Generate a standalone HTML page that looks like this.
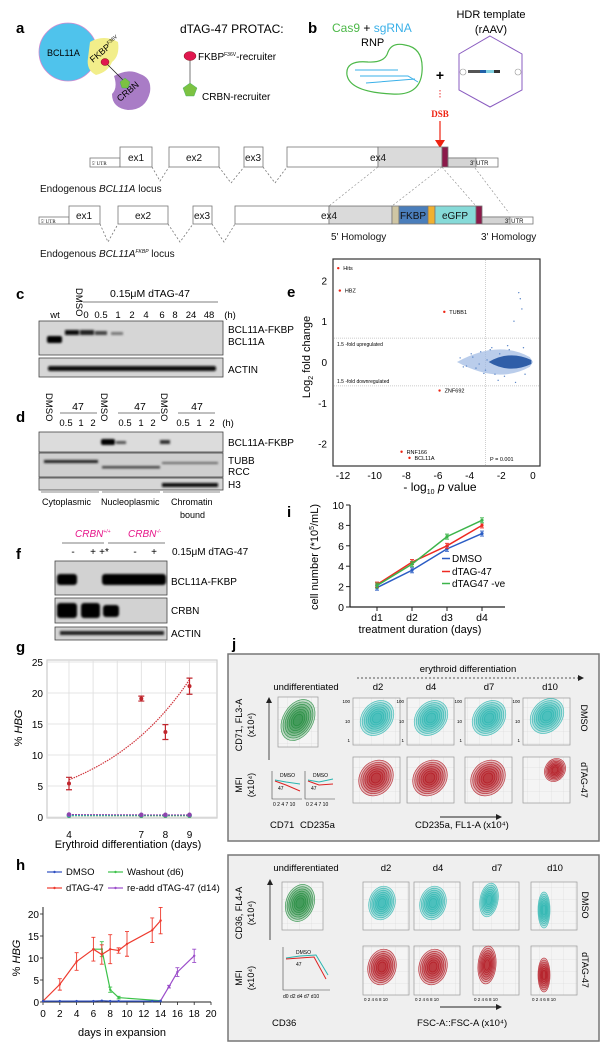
<!DOCTYPE html>
<html><head><meta charset="utf-8"><style>
html,body{margin:0;padding:0;background:#fff;}
svg{display:block;font-family:"Liberation Sans",sans-serif;}
</style></head><body>
<svg id="fig" width="611" height="1050" viewBox="0 0 611 1050" xmlns="http://www.w3.org/2000/svg">
<defs>
<pattern id="hatch" width="4" height="2" patternUnits="userSpaceOnUse"><rect width="4" height="2" fill="#ececec"/><line x1="0" y1="1" x2="4" y2="1" stroke="#b0b0b0" stroke-width="0.6"/></pattern>
<pattern id="vhatch" width="2" height="4" patternUnits="userSpaceOnUse"><rect width="2" height="4" fill="#e6e6e6"/><line x1="1" y1="0" x2="1" y2="4" stroke="#aaa" stroke-width="0.6"/></pattern>
<filter id="blur" x="-20%" y="-50%" width="140%" height="200%"><feGaussianBlur stdDeviation="1"/></filter>
<pattern id="fgrid" width="12" height="12" patternUnits="userSpaceOnUse"><rect width="12" height="12" fill="#f4f4f4"/><path d="M12 0V12M0 12H12" stroke="#d4d4d4" stroke-width="0.5"/></pattern>
</defs>

<!-- Panel a -->
<g>
<text x="16" y="33" font-size="15" font-weight="bold">a</text>
<circle cx="68" cy="52" r="29" fill="#4fc3ec" stroke="#d48ad0" stroke-width="0.8"/>
<path d="M90 42 Q104 34 118 42 Q120 56 112 62 Q108 72 96 75 Q86 70 88 58 Z" fill="#f2ee8a"/>
<path d="M114 76 Q128 68 140 74 Q152 78 150 92 Q146 110 128 110 Q112 108 112 94 Q118 88 114 76 Z" fill="#a97cc6"/>
<text x="47" y="56" font-size="9">BCL11A</text>
<text x="93" y="63" font-size="9" transform="rotate(-40 93 63)">FKBP<tspan font-size="5" dy="-4">F36V</tspan></text>
<text x="120" y="102" font-size="9" transform="rotate(-40 120 102)">CRBN</text>
<line x1="105" y1="62" x2="125" y2="82" stroke="#222" stroke-width="0.8"/>
<ellipse cx="105" cy="62" rx="4" ry="3.5" fill="#e0174f" stroke="#600" stroke-width="0.4"/>
<polygon points="125,78 130,82 128,88 122,88 120,82" fill="#7cc242" stroke="#3a6" stroke-width="0.4"/>
<text x="180" y="33" font-size="12">dTAG-47 PROTAC:</text>
<line x1="190" y1="58" x2="190" y2="86" stroke="#555" stroke-width="0.8"/>
<ellipse cx="190" cy="56" rx="6" ry="4.5" fill="#e0174f" stroke="#600" stroke-width="0.4"/>
<polygon points="190,83 197,88 194,96 186,96 183,88" fill="#7cc242" stroke="#3a6" stroke-width="0.4"/>
<text x="198" y="60" font-size="10">FKBP<tspan font-size="5" dy="-4">F36V</tspan><tspan dy="4">-recruiter</tspan></text>
<text x="202" y="100" font-size="10">CRBN-recruiter</text>
</g>

<!-- Panel b -->
<g>
<text x="308" y="33" font-size="15" font-weight="bold">b</text>
<text x="332" y="32" font-size="12"><tspan fill="#4cb848">Cas9</tspan> + <tspan fill="#3ab0e8">sgRNA</tspan></text>
<text x="361" y="46" font-size="11">RNP</text>
<path d="M388 52 Q392 42 405 45 Q424 48 422 72 Q420 96 392 94 Q350 92 347 75 Q345 60 368 62 Q385 63 388 52 Z" fill="none" stroke="#4cb848" stroke-width="1.2"/>
<path d="M355 70 L398 70 M360 76 L408 76 L418 82 M366 83 L415 79" fill="none" stroke="#3ab0e8" stroke-width="1"/>
<text x="440" y="80" font-size="14" font-weight="bold" text-anchor="middle">+</text>
<line x1="440" y1="90" x2="440" y2="98" stroke="#e33" stroke-width="1" stroke-dasharray="1.5 1.5"/>
<polygon points="490,36 522,54 522,90 490,107 459,90 459,54" fill="none" stroke="#8a5cc0" stroke-width="1"/>
<rect x="468" y="70" width="12" height="3" fill="#555"/><rect x="480" y="70" width="6" height="3" fill="#2060a8"/><rect x="486" y="70" width="8" height="3" fill="#80d0e0"/><rect x="494" y="70" width="6" height="3" fill="#333"/>
<circle cx="463" cy="72" r="3" fill="none" stroke="#999" stroke-width="0.6"/><circle cx="518" cy="72" r="3" fill="none" stroke="#999" stroke-width="0.6"/>
<text x="491" y="18" font-size="11" text-anchor="middle">HDR template</text>
<text x="491" y="33" font-size="11" text-anchor="middle">(rAAV)</text>
<text x="440" y="117" font-size="9" font-weight="bold" fill="#e21" text-anchor="middle" font-family="Liberation Serif,serif">DSB</text>
<line x1="440" y1="121" x2="440" y2="142" stroke="#e21" stroke-width="1.2"/>
<polygon points="435,140 445,140 440,148" fill="#e21"/>
</g>

<!-- Locus 1 -->
<g stroke="#777" stroke-width="0.8">
<rect x="90" y="158" width="30" height="9" fill="#fff"/>
<rect x="120" y="147" width="32" height="20" fill="#fff"/>
<rect x="169" y="147" width="50" height="20" fill="#fff"/>
<rect x="244" y="147" width="19" height="20" fill="#fff"/>
<rect x="287" y="147" width="91" height="20" fill="#fff"/>
<rect x="378" y="147" width="64" height="20" fill="url(#hatch)"/>
<rect x="442" y="147" width="6" height="20" fill="#8b1a4a"/>
<rect x="448" y="158" width="50" height="9" fill="#fff"/>
<rect x="448" y="158" width="28" height="9" fill="url(#vhatch)"/>
<path d="M152 167 L160 181 L169 167 M219 167 L231 183 L244 167 M263 167 L275 183 L287 167" fill="none" stroke-dasharray="2 2"/>
<path d="M378 167 L329 206 M442 167 L392 206 M442 167 L476 206 M475 168 L509 213" fill="none" stroke="#888" stroke-dasharray="2 2" stroke-width="0.6"/>
</g>
<g font-size="10" fill="#111">
<text x="92" y="165" font-size="5" font-family="Liberation Serif,serif">5' UTR</text>
<text x="136" y="161" text-anchor="middle">ex1</text><text x="194" y="161" text-anchor="middle">ex2</text><text x="253" y="161" text-anchor="middle">ex3</text><text x="378" y="161" text-anchor="middle">ex4</text>
<text x="470" y="165" font-size="6">3' UTR</text>
<text x="40" y="192">Endogenous <tspan font-style="italic">BCL11A</tspan> locus</text>
</g>
<!-- Locus 2 -->
<g stroke="#777" stroke-width="0.8">
<rect x="39" y="217" width="30" height="7" fill="#fff"/>
<rect x="69" y="206" width="31" height="18" fill="#fff"/>
<rect x="118" y="206" width="50" height="18" fill="#fff"/>
<rect x="193" y="206" width="19" height="18" fill="#fff"/>
<rect x="235" y="206" width="94" height="18" fill="#fff"/>
<rect x="329" y="206" width="63" height="18" fill="url(#hatch)"/>
<rect x="392" y="206" width="7" height="18" fill="#cfc6a4"/>
<rect x="399" y="206" width="29" height="18" fill="#4a7ebb"/>
<rect x="428" y="206" width="7" height="18" fill="#f0b030"/>
<rect x="435" y="206" width="41" height="18" fill="#86dad8"/>
<rect x="476" y="206" width="6" height="18" fill="#8b1a4a"/>
<rect x="482" y="217" width="51" height="7" fill="#fff"/>
<rect x="482" y="217" width="28" height="7" fill="url(#vhatch)"/>
<path d="M100 224 L108 242 L118 224 M168 224 L180 242 L193 224 M212 224 L224 242 L235 224" fill="none" stroke-dasharray="2 2"/>
</g>
<g font-size="10" fill="#111">
<text x="41" y="223" font-size="5" font-family="Liberation Serif,serif">5' UTR</text>
<text x="84" y="219" text-anchor="middle">ex1</text><text x="143" y="219" text-anchor="middle">ex2</text><text x="202" y="219" text-anchor="middle">ex3</text><text x="329" y="219" text-anchor="middle">ex4</text>
<text x="413" y="219" text-anchor="middle" font-size="10">FKBP</text>
<text x="455" y="219" text-anchor="middle">eGFP</text>
<text x="505" y="223" font-size="6">3' UTR</text>
<text x="331" y="240" font-size="10">5' Homology</text>
<text x="481" y="240" font-size="10">3' Homology</text>
<text x="40" y="257">Endogenous <tspan font-style="italic">BCL11A<tspan font-size="5" dy="-4">FKBP</tspan></tspan><tspan dy="4"> locus</tspan></text>
</g>

<!-- Panel c -->
<g font-size="10">
<text x="16" y="299" font-size="15" font-weight="bold">c</text>
<text x="150" y="297" font-size="10.5" text-anchor="middle">0.15μM dTAG-47</text>
<line x1="83" y1="302" x2="218" y2="302" stroke="#555" stroke-width="0.8"/>
<text x="76" y="288" font-size="9.5" transform="rotate(90 76 288)">DMSO</text>
<g text-anchor="middle" font-size="9.5">
<text x="55" y="318">wt</text><text x="86" y="318">0</text><text x="101" y="318">0.5</text><text x="118" y="318">1</text><text x="132" y="318">2</text><text x="146" y="318">4</text><text x="162" y="318">6</text><text x="175" y="318">8</text><text x="191" y="318">24</text><text x="209" y="318">48</text><text x="230" y="318">(h)</text>
</g>
<rect x="39" y="321" width="184" height="34" fill="#d6d6d6" stroke="#444" stroke-width="0.8"/>
<g filter="url(#blur)">
<rect x="47" y="336" width="15" height="7" rx="2" fill="#000"/>
<rect x="65" y="330" width="14" height="5" fill="#111"/><rect x="80" y="330" width="14" height="5" fill="#222"/><rect x="95" y="331" width="12" height="4" fill="#444"/><rect x="111" y="332" width="12" height="3" fill="#777"/>
</g>
<rect x="39" y="358" width="184" height="19" fill="#d6d6d6" stroke="#444" stroke-width="0.8"/>
<g filter="url(#blur)" fill="#111"><rect x="48" y="366" width="168" height="5" rx="2"/></g>
<text x="228" y="333">BCL11A-FKBP</text><text x="228" y="345">BCL11A</text><text x="228" y="373">ACTIN</text>
</g>

<!-- Panel d -->
<g font-size="10">
<text x="16" y="422" font-size="15" font-weight="bold">d</text>
<text x="46" y="393" font-size="9.5" transform="rotate(90 46 393)">DMSO</text>
<text x="101" y="393" font-size="9.5" transform="rotate(90 101 393)">DMSO</text>
<text x="161" y="393" font-size="9.5" transform="rotate(90 161 393)">DMSO</text>
<g text-anchor="middle" font-size="10.5"><text x="78" y="410">47</text><text x="140" y="410">47</text><text x="197" y="410">47</text></g>
<path d="M60 413H97M118 413H160M178 413H215" stroke="#555" stroke-width="0.8"/>
<g text-anchor="middle" font-size="9.5"><text x="66" y="426">0.5</text><text x="81" y="426">1</text><text x="93" y="426">2</text><text x="125" y="426">0.5</text><text x="141" y="426">1</text><text x="153" y="426">2</text><text x="183" y="426">0.5</text><text x="199" y="426">1</text><text x="212" y="426">2</text><text x="228" y="426">(h)</text></g>
<rect x="39" y="432" width="184" height="20" fill="#dcdcdc" stroke="#444" stroke-width="0.8"/>
<rect x="39" y="453" width="184" height="24" fill="#cfcfcf" stroke="#444" stroke-width="0.8"/>
<rect x="39" y="478" width="184" height="12" fill="#d6d6d6" stroke="#444" stroke-width="0.8"/>
<g filter="url(#blur)">
<rect x="101" y="439" width="14" height="6" rx="2" fill="#000"/><rect x="116" y="441" width="10" height="3" fill="#555"/><rect x="160" y="440" width="10" height="4" fill="#333"/>
<rect x="44" y="460" width="54" height="3" fill="#222"/><rect x="102" y="466" width="58" height="2.5" fill="#444"/><rect x="162" y="462" width="56" height="2" fill="#666"/>
<rect x="162" y="483" width="56" height="4" fill="#111"/>
</g>
<text x="228" y="446">BCL11A-FKBP</text><text x="228" y="464">TUBB</text><text x="228" y="475">RCC</text><text x="228" y="488">H3</text>
<path d="M41 492H99M102 492H160M163 492H220" stroke="#666" stroke-width="0.8"/>
<text x="42" y="505" font-size="9">Cytoplasmic</text><text x="101" y="505" font-size="9">Nucleoplasmic</text><text x="171" y="505" font-size="9">Chromatin</text><text x="180" y="518" font-size="9">bound</text>
</g>

<!-- Panel f -->
<g font-size="10">
<text x="16" y="559" font-size="15" font-weight="bold">f</text>
<text x="75" y="537" fill="#e6168a" font-style="italic">CRBN<tspan font-size="5" dy="-4">+/+</tspan></text>
<text x="128" y="537" fill="#e6168a" font-style="italic">CRBN<tspan font-size="5" dy="-4">-/-</tspan></text>
<path d="M62 543H104M108 543H165" stroke="#555" stroke-width="0.8"/>
<g text-anchor="middle"><text x="73" y="555">-</text><text x="93" y="555">+</text><text x="104" y="555">+*</text><text x="135" y="555">-</text><text x="154" y="555">+</text></g>
<text x="172" y="555">0.15μM dTAG-47</text>
<rect x="55" y="561" width="112" height="34" fill="#d2d2d2" stroke="#444" stroke-width="0.8"/>
<rect x="55" y="598" width="112" height="25" fill="#d2d2d2" stroke="#444" stroke-width="0.8"/>
<rect x="55" y="627" width="112" height="13" fill="#d2d2d2" stroke="#444" stroke-width="0.8"/>
<g filter="url(#blur)" fill="#000">
<rect x="57" y="574" width="20" height="11" rx="3"/><rect x="102" y="574" width="64" height="11" rx="3"/>
<rect x="57" y="603" width="20" height="15" rx="3"/><rect x="81" y="603" width="19" height="15" rx="3"/><rect x="103" y="605" width="16" height="12" rx="3"/>
<rect x="60" y="631" width="104" height="4" fill="#222"/>
</g>
<text x="171" y="585">BCL11A-FKBP</text><text x="171" y="614">CRBN</text><text x="171" y="637">ACTIN</text>
</g>

<!-- Panel e -->
<g id="panel-e">
<text x="287" y="297" font-size="15" font-weight="bold">e</text>
<rect x="333" y="259" width="207" height="207" fill="#fff" stroke="#333" stroke-width="1.2"/>
<text x="310" y="357" font-size="11" transform="rotate(-90 310 357)" text-anchor="middle">Log<tspan font-size="7" dy="3">2</tspan><tspan dy="-3"> fold change</tspan></text>
<text x="440" y="491" font-size="12" text-anchor="middle">- log<tspan font-size="7" dy="3">10</tspan><tspan dy="-3"> </tspan><tspan font-style="italic">p</tspan> value</text>
</g>

<!-- Panel g -->
<g id="panel-g">
<text x="16" y="652" font-size="15" font-weight="bold">g</text>
<text x="22" y="728" font-size="11" transform="rotate(-90 22 728)" text-anchor="middle">% <tspan font-style="italic">HBG</tspan></text>
<text x="128" y="848" font-size="11" text-anchor="middle">Erythroid differentiation (days)</text>
<text x="65" y="738" font-size="10" fill="#c0262d">dTAG-47</text>
<text x="202" y="777" font-size="10" fill="#2ab0e4" text-anchor="end">DMSO</text>
<text x="202" y="790" font-size="10" fill="#3aaa3a" text-anchor="end">dTAG47-ve</text>
<text x="202" y="803" font-size="10" fill="#8e44ad" text-anchor="end">dTAG-47<tspan font-style="italic">(CRBN<tspan font-size="5" dy="-4">-/-</tspan><tspan dy="4">)</tspan></tspan></text>
</g>

<!-- Panel h -->
<g id="panel-h">
<text x="16" y="870" font-size="15" font-weight="bold">h</text>
<text x="20" y="958" font-size="11" transform="rotate(-90 20 958)" text-anchor="middle">% <tspan font-style="italic">HBG</tspan></text>
<text x="122" y="1036" font-size="11" text-anchor="middle">days in expansion</text>
</g>

<!-- Panel i -->
<g id="panel-i">
<text x="287" y="517" font-size="15" font-weight="bold">i</text>
<text x="318" y="557" font-size="11" transform="rotate(-90 318 557)" text-anchor="middle">cell number (*10<tspan font-size="7" dy="-4">5</tspan><tspan dy="4">/mL)</tspan></text>
<text x="420" y="633" font-size="11" text-anchor="middle">treatment duration (days)</text>
</g>

<!-- Panel j -->
<g id="panel-j">
<text x="232" y="649" font-size="15" font-weight="bold">j</text>
<rect x="228" y="654" width="371" height="187" fill="#efefef" stroke="#777" stroke-width="1.5"/>
<rect x="228" y="855" width="371" height="186" fill="#efefef" stroke="#777" stroke-width="1.5"/>
<text x="468" y="672" font-size="9.5" text-anchor="middle">erythroid differentiation</text>
<line x1="357" y1="678" x2="578" y2="678" stroke="#222" stroke-width="0.8" stroke-dasharray="2 2"/>
<polygon points="578,675 584,678 578,681" fill="#222"/>
<g font-size="9.5" text-anchor="middle"><text x="306" y="690">undifferentiated</text><text x="378" y="690">d2</text><text x="431" y="690">d4</text><text x="489" y="690">d7</text><text x="550" y="690">d10</text>
<text x="306" y="871">undifferentiated</text><text x="386" y="871">d2</text><text x="438" y="871">d4</text><text x="497" y="871">d7</text><text x="555" y="871">d10</text></g>
<g font-size="9" text-anchor="middle">
<text x="242" y="725" transform="rotate(-90 242 725)">CD71, FL3-A</text><text x="254" y="725" transform="rotate(-90 254 725)">(x10⁴)</text>
<text x="242" y="785" transform="rotate(-90 242 785)">MFI</text><text x="254" y="785" transform="rotate(-90 254 785)">(x10⁴)</text>
<text x="242" y="913" transform="rotate(-90 242 913)">CD36, FL4-A</text><text x="254" y="913" transform="rotate(-90 254 913)">(x10⁴)</text>
<text x="242" y="978" transform="rotate(-90 242 978)">MFI</text><text x="254" y="978" transform="rotate(-90 254 978)">(x10⁴)</text>
<text x="581" y="718" transform="rotate(90 581 718)">DMSO</text><text x="581" y="780" transform="rotate(90 581 780)">dTAG-47</text>
<text x="582" y="905" transform="rotate(90 582 905)">DMSO</text><text x="582" y="970" transform="rotate(90 582 970)">dTAG-47</text>
</g>
<line x1="269" y1="760" x2="269" y2="702" stroke="#222" stroke-width="0.8"/><polygon points="266,703 269,697 272,703" fill="#222"/>
<line x1="270" y1="940" x2="270" y2="884" stroke="#222" stroke-width="0.8"/><polygon points="267,885 270,879 273,885" fill="#222"/>
<g font-size="9.5"><text x="270" y="828">CD71</text><text x="300" y="828">CD235a</text><text x="415" y="828">CD235a, FL1-A (x10⁴)</text>
<text x="272" y="1026">CD36</text><text x="417" y="1026">FSC-A::FSC-A (x10⁴)</text></g>
<line x1="440" y1="817" x2="497" y2="817" stroke="#222" stroke-width="1"/><polygon points="496,814 502,817 496,820" fill="#222"/>
<line x1="440" y1="1007" x2="497" y2="1007" stroke="#222" stroke-width="1"/><polygon points="496,1004 502,1007 496,1010" fill="#222"/>
</g>

<script>
// ===== Panel e data =====
var eHitNames = ["Hits","HBZ","TUBB1","ZNF692","RNF166","BCL11A"];
var eHitX = [-12.3,-12.2,-5.6,-5.9,-8.3,-7.8];
var eHitY = [2.3,1.75,1.23,-0.7,-2.2,-2.35];
var eXTicks = [-12,-10,-8,-6,-4,-2,0];
var eYTicks = [2,1,0,-1,-2];
var eBgX = [-4.6,-4.2,-3.9,-3.6,-3.3,-3.0,-2.7,-2.4,-2.1,-1.8,-1.5,-1.2,-0.9,-0.8,-0.7,-2.9,-3.4,-2.2,-1.6,-1.1,-0.6,-0.5,-4.4,-3.8,-3.1,-2.6];
var eBgY = [0.1,-0.1,0.2,-0.15,0.25,-0.2,0.3,-0.3,0.2,-0.35,0.3,1.0,1.7,1.55,1.3,0.05,-0.05,-0.45,0.4,-0.5,0.35,-0.3,-0.12,0.12,-0.28,0.35];
// ===== Panel g data =====
var gDays = [4,7,8,9];
var gDtag = [5.4,19.1,13.7,21.1];
var gDtagErr = [1.0,0.4,1.2,1.3];
var gDmso = [0.3,0.3,0.3,0.3];
var gNeg = [0.2,0.2,0.2,0.2];
var gCrbn = [0.4,0.35,0.35,0.35];
var gYTicks = [0,5,10,15,20,25];
// ===== Panel h data =====
var hDmsoDays = [0,2,4,6,7,8,9,13,14];
var hDmso = [0.2,0.2,0.2,0.2,0.3,0.2,0.2,0.2,0.2];
var hDtagDays = [0,2,4,6,7,8,9,10,13,14];
var hDtag = [0.2,4,9.2,12,10.8,12,11.7,13.2,16.3,18.5];
var hDtagErr = [0,1.3,2,2.7,2.2,3.3,0.6,2.8,2.8,3];
var hWashDays = [6,7,8,9,14];
var hWash = [12,12,2.8,1,0.3];
var hWashErr = [0,1.7,0.6,0.3,0];
var hReDays = [14,15,16,18];
var hRe = [0.3,3.5,6.8,10.5];
var hReErr = [0,0.3,1,1.5];
var hXTicks = [0,2,4,6,8,10,12,14,16,18,20];
var hYTicks = [0,5,10,15,20];
// ===== Panel i data =====
var iCats = ["d1","d2","d3","d4"];
var iDmso = [1.9,3.6,5.7,7.2];
var iDtag = [2.2,4.4,6.0,8.0];
var iNeg = [2.1,4.2,6.9,8.5];
var iYTicks = [0,2,4,6,8,10];

var NS="http://www.w3.org/2000/svg";
function mk(parent,tag,attrs,txt){var e=document.createElementNS(NS,tag);for(var k in attrs)e.setAttribute(k,attrs[k]);if(txt!==undefined)e.textContent=txt;parent.appendChild(e);return e;}

// ---- e ----
(function(){
var g=document.getElementById('panel-e');
function ex(v){return 343+(v+12)*15.83;}
function ey(v){return 362-v*40.8;}
var el;
eXTicks.forEach(function(t){
 el=mk(g,'text',{x:ex(t),y:479,'font-size':10,'text-anchor':'middle'},String(t));
 
 
});
eYTicks.forEach(function(t){
 el=mk(g,'text',{x:327,y:ey(t)+4,'font-size':10,'text-anchor':'end'},String(t));
 
 
});
mk(g,'line',{x1:334,x2:539,y1:ey(0.585),y2:ey(0.585),stroke:'#bbb','stroke-width':0.7,'stroke-dasharray':'1 1'});
mk(g,'line',{x1:334,x2:539,y1:ey(-0.585),y2:ey(-0.585),stroke:'#bbb','stroke-width':0.7,'stroke-dasharray':'1 1'});
mk(g,'line',{x1:ex(-3),x2:ex(-3),y1:260,y2:465,stroke:'#bbb','stroke-width':0.7,'stroke-dasharray':'1 1'});
mk(g,'text',{x:337,y:ey(0.585)+8,'font-size':5},'1.5 -fold upregulated');
mk(g,'text',{x:337,y:ey(-0.585)-3,'font-size':5},'1.5 -fold downregulated');
mk(g,'text',{x:490,y:461,'font-size':5.5},'P = 0.001');
el=mk(g,'path',{d:'M'+ex(-4.8)+' '+ey(0)+' Q'+ex(-2.2)+' '+ey(0.55)+' '+ex(-0.2)+' '+ey(0.12)+' L'+ex(0)+' '+ey(0)+' L'+ex(-0.2)+' '+ey(-0.12)+' Q'+ex(-2.2)+' '+ey(-0.55)+' '+ex(-4.8)+' '+ey(0)+'Z',fill:'#9db8e2',opacity:0.7});


el=mk(g,'path',{d:'M'+ex(-2.8)+' '+ey(0)+' Q'+ex(-1.5)+' '+ey(0.3)+' '+ex(-0.1)+' '+ey(0.05)+' L'+ex(-0.1)+' '+ey(-0.05)+' Q'+ex(-1.5)+' '+ey(-0.3)+' '+ex(-2.8)+' '+ey(0)+'Z',fill:'#2f5ea8'});


eBgX.forEach(function(x,i){
 el=mk(g,'circle',{cx:ex(x),cy:ey(eBgY[i]),r:0.7,fill:'#5b86c8'});
 
 
});
eHitNames.forEach(function(n,i){
 el=mk(g,'circle',{cx:ex(eHitX[i]),cy:ey(eHitY[i]),r:1.2,fill:'#e21'});
 
 
 el=mk(g,'text',{x:ex(eHitX[i])+5,y:ey(eHitY[i])+2,'font-size':5.5},n);
 
 
});
})();

// ---- g ----
(function(){
var g=document.getElementById('panel-g');
function gx(d){return 69+(d-4)*24.1;}
function gy(v){return 817-v*6.2;}
var el;
el=mk(g,'rect',{x:47,y:660,width:170,height:158,fill:'#fff',stroke:'#ccc','stroke-width':1.2});


[4,5,6,7,8,9].forEach(function(d){mk(g,'line',{x1:gx(d),x2:gx(d),y1:660,y2:818,stroke:'#ddd','stroke-width':0.8});});
gYTicks.forEach(function(t){
 mk(g,'line',{x1:47,x2:217,y1:gy(t),y2:gy(t),stroke:'#ddd','stroke-width':0.8});
 el=mk(g,'text',{x:43,y:gy(t)+4,'font-size':10,'text-anchor':'end'},String(t));
 
 
});
gDays.forEach(function(d){
 el=mk(g,'text',{x:gx(d),y:838,'font-size':10,'text-anchor':'middle'},String(d));
 
 
});
var n=gDays.length,sx=0,sy=0,sxx=0,sxy=0;
gDays.forEach(function(d,i){var l=Math.log(gDtag[i]);sx+=d;sy+=l;sxx+=d*d;sxy+=d*l;});
var b=(n*sxy-sx*sy)/(n*sxx-sx*sx),a=(sy-b*sx)/n;
var pts=[];for(var d=gDays[0];d<=gDays[n-1]+0.001;d+=0.1){pts.push(gx(d).toFixed(1)+','+gy(Math.exp(a+b*d)).toFixed(1));}
el=mk(g,'polyline',{points:pts.join(' '),fill:'none',stroke:'#d0343b','stroke-width':1.2,'stroke-dasharray':'1.5 1'});


function flat(arr,col,name){
 el=mk(g,'polyline',{points:gDays.map(function(d,i){return gx(d)+','+gy(arr[i]);}).join(' '),fill:'none',stroke:col,'stroke-width':1,'stroke-dasharray':'2 1'});
 
 
 gDays.forEach(function(d,i){
  el=mk(g,'circle',{cx:gx(d),cy:gy(arr[i]),r:2.3,fill:col});
  
  
 });
}
flat(gNeg,'#3aaa3a','g-dtag47-ve');
flat(gDmso,'#2ab0e4','g-dmso');
flat(gCrbn,'#8e44ad','g-crbn-ko');
gDays.forEach(function(d,i){
 var x=gx(d),y1=gy(gDtag[i]+gDtagErr[i]),y2=gy(gDtag[i]-gDtagErr[i]);
 mk(g,'path',{d:'M'+x+' '+y1+'V'+y2+'M'+(x-3)+' '+y1+'h6M'+(x-3)+' '+y2+'h6',stroke:'#c0262d','stroke-width':1.2,fill:'none'});
 el=mk(g,'circle',{cx:x,cy:gy(gDtag[i]),r:2,fill:'#c0262d'});
 
 
});
})();

// ---- h ----
(function(){
var g=document.getElementById('panel-h');
function hx(d){return 43+d*8.4;}
function hy(v){return 1002-v*4.4;}
var el;
mk(g,'line',{x1:43,x2:43,y1:907,y2:1002,stroke:'#222','stroke-width':1});
mk(g,'line',{x1:43,x2:211,y1:1002,y2:1002,stroke:'#222','stroke-width':1});
hXTicks.forEach(function(t){
 mk(g,'line',{x1:hx(t),x2:hx(t),y1:1002,y2:1005,stroke:'#222','stroke-width':0.8});
 el=mk(g,'text',{x:hx(t),y:1017,'font-size':10,'text-anchor':'middle'},String(t));
 
 
});
hYTicks.forEach(function(t){
 mk(g,'line',{x1:40,x2:43,y1:hy(t),y2:hy(t),stroke:'#222','stroke-width':0.8});
 el=mk(g,'text',{x:39,y:hy(t)+4,'font-size':10,'text-anchor':'end'},String(t));
 
 
});
function series(days,vals,errs,col,name){
 el=mk(g,'polyline',{points:days.map(function(d,i){return hx(d)+','+hy(vals[i]);}).join(' '),fill:'none',stroke:col,'stroke-width':1.2});
 
 
 days.forEach(function(d,i){
  var x=hx(d);
  if(errs&&errs[i]>0){var y1=hy(vals[i]+errs[i]),y2=hy(vals[i]-errs[i]);
   mk(g,'path',{d:'M'+x+' '+y1+'V'+y2+'M'+(x-2)+' '+y1+'h4M'+(x-2)+' '+y2+'h4',stroke:col,'stroke-width':0.9,fill:'none'});}
  el=mk(g,'circle',{cx:x,cy:hy(vals[i]),r:1.2,fill:col});
  
  
 });
}
series(hWashDays,hWash,hWashErr,'#3cc24a','h-washout');
series(hReDays,hRe,hReErr,'#9b4dca','h-readd');
series(hDtagDays,hDtag,hDtagErr,'#ee3a2e','h-dtag47');
series(hDmsoDays,hDmso,null,'#2f4fc0','h-dmso');
var leg=[['DMSO','#2f4fc0',47,875],['Washout (d6)','#3cc24a',108,875],['dTAG-47','#ee3a2e',47,891],['re-add dTAG-47 (d14)','#9b4dca',108,891]];
leg.forEach(function(l){
 mk(g,'line',{x1:l[2],x2:l[2]+15,y1:l[3]-3,y2:l[3]-3,stroke:l[1],'stroke-width':1.2});
 mk(g,'circle',{cx:l[2]+7.5,cy:l[3]-3,r:1.2,fill:l[1]});
 el=mk(g,'text',{x:l[2]+19,y:l[3],'font-size':9.5},l[0]);
 
 
});
})();

// ---- i ----
(function(){
var g=document.getElementById('panel-i');
function ix(i){return 377+i*35;}
function iy(v){return 607-v*10.2;}
var el;
mk(g,'line',{x1:350,x2:350,y1:505,y2:607,stroke:'#222','stroke-width':1.2});
mk(g,'line',{x1:350,x2:505,y1:607,y2:607,stroke:'#222','stroke-width':1.2});
iYTicks.forEach(function(t){
 mk(g,'line',{x1:346,x2:350,y1:iy(t),y2:iy(t),stroke:'#222','stroke-width':1});
 el=mk(g,'text',{x:344,y:iy(t)+4,'font-size':10.5,'text-anchor':'end'},String(t));
 
 
});
iCats.forEach(function(c,i){
 mk(g,'line',{x1:ix(i),x2:ix(i),y1:607,y2:611,stroke:'#222','stroke-width':1});
 el=mk(g,'text',{x:ix(i),y:621,'font-size':10.5,'text-anchor':'middle'},c);
 
 
});
function series(vals,col,name){
 el=mk(g,'polyline',{points:vals.map(function(v,i){return ix(i)+','+iy(v);}).join(' '),fill:'none',stroke:col,'stroke-width':1.5});
 
 
 vals.forEach(function(v,i){
  mk(g,'path',{d:'M'+ix(i)+' '+(iy(v)-2.5)+'v5M'+(ix(i)-2)+' '+(iy(v)-2.5)+'h4M'+(ix(i)-2)+' '+(iy(v)+2.5)+'h4',stroke:col,'stroke-width':0.9});
  el=mk(g,'circle',{cx:ix(i),cy:iy(v),r:1.6,fill:col});
  
  
 });
}
series(iDmso,'#2a5cc4','i-dmso');
series(iDtag,'#ee2a22','i-dtag47');
series(iNeg,'#3cb44a','i-dtag47-ve');
[['DMSO','#2a5cc4',562],['dTAG-47','#ee2a22',575],['dTAG47 -ve','#3cb44a',587]].forEach(function(l){
 mk(g,'line',{x1:442,x2:450,y1:l[2]-3.5,y2:l[2]-3.5,stroke:l[1],'stroke-width':1.5});
 el=mk(g,'text',{x:452,y:l[2],'font-size':10},l[0]);
 
 
});
})();

// ---- j flow plots (decorative contours) ----
(function(){
var g=document.getElementById('panel-j');
var el;
function box(x,y,w,h){mk(g,'rect',{x:x,y:y,width:w,height:h,fill:'url(#fgrid)',stroke:'#999','stroke-width':0.7});}
function blob(cx,cy,rx,ry,rot,col,name){
 for(var k=0;k<7;k++){
  el=mk(g,'ellipse',{cx:cx,cy:cy,rx:rx*(1-k*0.12),ry:ry*(1-k*0.12),transform:'rotate('+rot+' '+cx+' '+cy+')',fill:col,'fill-opacity':0.22,stroke:col,'stroke-width':0.7,'stroke-opacity':0.8});
 }
 
 
}
var teal='#2ab5b0',red='#b3151f',green='#1e8a3a';
box(278,697,40,50); blob(298,720,15,22,30,green,'j-undiff-cd71-contour');
var r1x=[353,407,465,523];
r1x.forEach(function(x,i){box(x,698,47,47);box(x,757,47,46);
 blob(x+24,718+(i==3?-2:0),15,19,40,teal,'j-dmso-contour');
 if(i<3) blob(x+23,778,16,19,40,red,'j-dtag-contour'); else blob(x+32,770,10,12,30,red,'j-dtag-contour');
 mk(g,'text',{x:x-3,y:703,'font-size':4.5,'text-anchor':'end'},'100');
 mk(g,'text',{x:x-3,y:723,'font-size':4.5,'text-anchor':'end'},'10');
 mk(g,'text',{x:x-3,y:742,'font-size':4.5,'text-anchor':'end'},'1');
});
[[272,771],[305,771]].forEach(function(p,i){
 mk(g,'path',{d:'M'+p[0]+' '+p[1]+'V'+(p[1]+28)+'H'+(p[0]+30),stroke:'#444','stroke-width':0.6,fill:'none'});
 mk(g,'polyline',{points:(p[0]+3)+','+(p[1]+9)+' '+(p[0]+14)+','+(p[1]+11)+' '+(p[0]+28)+','+(p[1]+(i?8:13)),fill:'none',stroke:teal,'stroke-width':1});
 mk(g,'polyline',{points:(p[0]+3)+','+(p[1]+10)+' '+(p[0]+14)+','+(p[1]+14)+' '+(p[0]+28)+','+(p[1]+(i?13:20)),fill:'none',stroke:'#d22','stroke-width':1});
 mk(g,'text',{x:p[0]+8,y:p[1]+6,'font-size':5},'DMSO');
 mk(g,'text',{x:p[0]+6,y:p[1]+19,'font-size':5},'47');
 mk(g,'text',{x:p[0]+1,y:p[1]+35,'font-size':5},'0 2 4 7 10');
});
box(282,882,41,48); blob(300,903,14,19,20,green,'j-undiff-cd36-contour');
var r2x=[363,414,473,531];
r2x.forEach(function(x,i){box(x,882,46,48);box(x,946,46,49);
 if(i<2){blob(x+19,903,13,17,15,teal,'j-dmso-contour');blob(x+19,967,14,18,15,red,'j-dtag-contour');}
 else if(i==2){blob(x+16,900,9,17,10,teal,'j-dmso-contour');blob(x+14,965,9,19,5,red,'j-dtag-contour');}
 else {blob(x+13,910,6,18,0,teal,'j-dmso-contour');blob(x+13,975,6,17,0,red,'j-dtag-contour');}
 mk(g,'text',{x:x+1,y:1001,'font-size':4.5},'0  2  4  6  8 10');
});
mk(g,'path',{d:'M283 947V990H330',stroke:'#444','stroke-width':0.6,fill:'none'});
mk(g,'polyline',{points:'286,958 300,956 316,955 328,975',fill:'none',stroke:teal,'stroke-width':1});
mk(g,'polyline',{points:'286,959 300,958 314,957 326,979',fill:'none',stroke:'#d22','stroke-width':1});
mk(g,'text',{x:296,y:954,'font-size':5},'DMSO');mk(g,'text',{x:296,y:966,'font-size':5},'47');
mk(g,'text',{x:283,y:998,'font-size':5},'d0 d2 d4 d7 d10');
})();
</script>
</svg>
</body></html>
